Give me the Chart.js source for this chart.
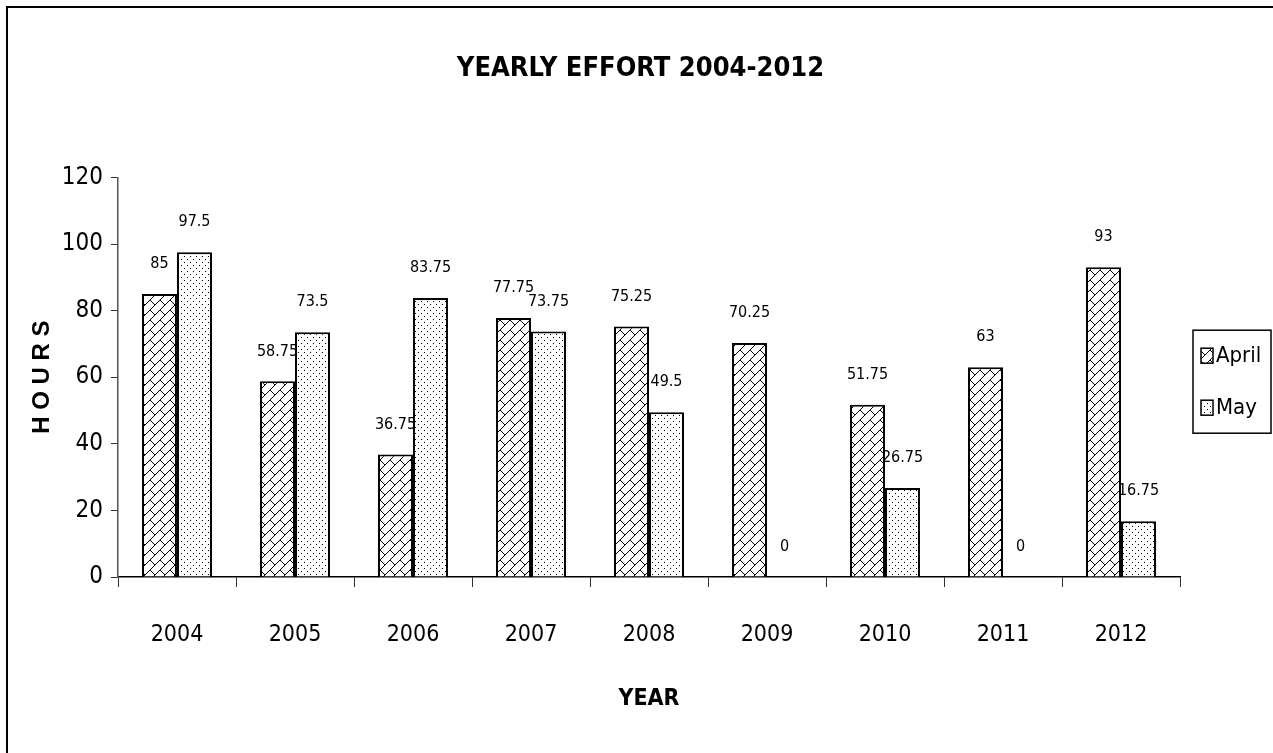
<!DOCTYPE html>
<html>
<head>
<meta charset="utf-8">
<script src="https://cdn.jsdelivr.net/npm/chart.js@4.4.1/dist/chart.umd.min.js"></script>
<style>
  html, body { margin: 0; padding: 0; background: #fff; }
  #wrap { width: 1273px; height: 753px; }
</style>
</head>
<body>
<div id="wrap"><canvas id="c" width="1273" height="753"></canvas></div>
<script>
const years = ['2004','2005','2006','2007','2008','2009','2010','2011','2012'];
const aprilHours = [85, 58.75, 36.75, 77.75, 75.25, 70.25, 51.75, 63, 93];
const mayHours = [97.5, 73.5, 83.75, 73.75, 49.5, 0, 26.75, 0, 16.75];
const seriesNames = ['April', 'May'];
const yTicks = [0, 20, 40, 60, 80, 100, 120];
const chartTitle = 'YEARLY EFFORT 2004-2012';
const xTitle = 'YEAR';
const yTitle = 'H O U R S';

const FONT = "'Liberation Sans Narrow', 'Arial Narrow', 'DejaVu Sans Condensed', sans-serif";

function brickPattern() {
  const s = 10;
  const c = document.createElement('canvas');
  c.width = s; c.height = s;
  const g = c.getContext('2d');
  g.fillStyle = '#fff'; g.fillRect(0, 0, s, s);
  g.strokeStyle = '#000'; g.lineWidth = 1;
  g.beginPath();
  g.moveTo(-1, s + 1); g.lineTo(s + 1, -1);
  g.moveTo(0, 0); g.lineTo(s / 2, s / 2);
  g.stroke();
  return g.createPattern(c, 'repeat');
}
function dotPattern() {
  const c = document.createElement('canvas');
  c.width = 6; c.height = 6;
  const g = c.getContext('2d');
  g.fillStyle = '#fff'; g.fillRect(0, 0, 6, 6);
  g.fillStyle = '#000';
  g.fillRect(1, 1, 1, 1);
  g.fillRect(4, 4, 1, 1);
  return g.createPattern(c, 'repeat');
}

const frame = {
  id: 'frame',
  beforeDraw(chart) {
    const ctx = chart.ctx;
    ctx.save();
    ctx.fillStyle = '#fff';
    ctx.fillRect(0, 0, chart.width, chart.height);
    ctx.strokeStyle = '#000';
    ctx.lineWidth = 2;
    ctx.strokeRect(7, 7, chart.width + 20, chart.height + 20);
    ctx.restore();
  }
};

// Legend drawn in the space reserved on the right of the plot
const boxLegend = {
  id: 'boxLegend',
  afterDraw(chart) {
    const ctx = chart.ctx;
    const ca = chart.chartArea;
    const ds = chart.data.datasets;
    const gap = 52;
    const cy = (ca.top + ca.bottom) / 2 + 4;
    const firstY = cy - gap * (ds.length - 1) / 2;
    const left = ca.right + 13, right = chart.width - 2;
    const top = firstY - 25, bottom = firstY + gap * (ds.length - 1) + 26;
    ctx.save();
    ctx.strokeStyle = '#000';
    ctx.lineWidth = 1.5;
    ctx.strokeRect(left, top, right - left, bottom - top);
    ctx.font = '22px ' + FONT;
    ctx.textAlign = 'left';
    ctx.textBaseline = 'middle';
    ds.forEach((d, i) => {
      const y = firstY + i * gap;
      ctx.fillStyle = d.backgroundColor;
      ctx.fillRect(left + 8, y - 7, 12, 15);
      ctx.strokeStyle = '#000';
      ctx.lineWidth = 1.5;
      ctx.strokeRect(left + 8, y - 7, 12, 15);
      ctx.fillStyle = '#000';
      ctx.fillText(d.label, left + 23, y + 1);
    });
    ctx.restore();
  }
};

const valueLabels = {
  id: 'valueLabels',
  afterDatasetsDraw(chart) {
    const ctx = chart.ctx;
    ctx.save();
    ctx.font = '16px ' + FONT;
    ctx.fillStyle = '#000';
    ctx.textAlign = 'center';
    ctx.textBaseline = 'middle';
    chart.data.datasets.forEach((ds, di) => {
      const meta = chart.getDatasetMeta(di);
      meta.data.forEach((el, i) => {
        ctx.fillText(String(ds.data[i]), el.x, el.y - 30);
      });
    });
    ctx.restore();
  }
};

new Chart(document.getElementById('c'), {
  type: 'bar',
  data: {
    labels: years,
    datasets: [
      { label: seriesNames[0], data: aprilHours, backgroundColor: brickPattern(), borderColor: '#000', borderWidth: 2 },
      { label: seriesNames[1], data: mayHours, backgroundColor: dotPattern(), borderColor: '#000', borderWidth: 2 }
    ]
  },
  options: {
    responsive: false,
    animation: false,
    devicePixelRatio: 1,
    datasets: { bar: { categoryPercentage: 0.593, barPercentage: 1.0 } },
    layout: { padding: { left: 8, right: 0, top: 53, bottom: 36 } },
    plugins: {
      title: {
        display: true,
        text: chartTitle,
        color: '#000',
        font: { family: FONT, size: 27, weight: 'bold' },
        padding: { top: 0, bottom: 92 }
      },
      legend: { display: false },
      tooltip: { enabled: false }
    },
    scales: {
      x: {
        grid: { offset: true, drawOnChartArea: false, tickLength: 10, color: '#000', tickColor: '#333' },
        border: { color: '#000', width: 1.5 },
        ticks: { color: '#000', font: { family: FONT, size: 23 }, padding: 34 },
        title: { display: true, text: xTitle, color: '#000', font: { family: FONT, size: 23, weight: 'bold' } },
        afterFit(s) { s.height = 140; }
      },
      y: {
        min: 0, max: 120,
        afterBuildTicks(s) { s.ticks = yTicks.map(v => ({ value: v })); },
        grid: { drawOnChartArea: false, tickLength: 7, color: '#333' },
        border: { color: '#555', width: 1.5 },
        ticks: { color: '#000', font: { family: FONT, size: 24 }, padding: 8 },
        title: { display: true, text: yTitle, color: '#000', font: { family: 'Liberation Sans, Arial, sans-serif', size: 24, weight: 'bold' }, padding: { top: 20, bottom: 0 } },
        afterFit(s) { s.width = 110; }
      },
      legendSpace: {
        type: 'linear',
        position: 'right',
        display: true,
        grid: { display: false },
        border: { display: false },
        ticks: { display: false },
        afterFit(s) { s.width = 93; }
      }
    }
  },
  plugins: [frame, valueLabels, boxLegend]
});
</script>
</body>
</html>
